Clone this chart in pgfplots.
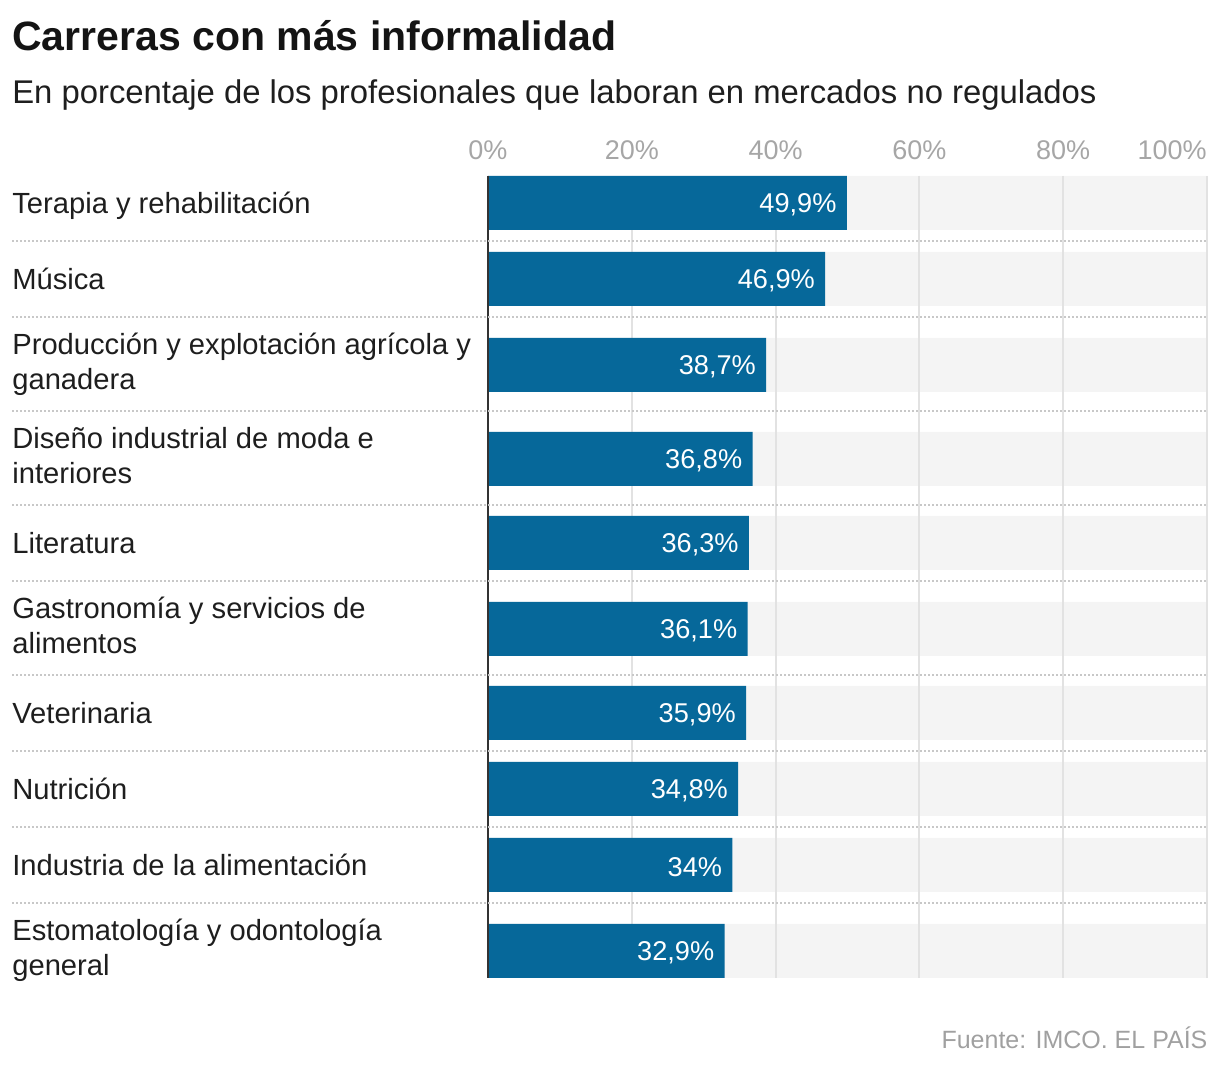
\documentclass[border=0pt]{standalone}
\usepackage{fontspec}
\setmainfont{Liberation Sans}
\usepackage{pgfplots}
\pgfplotsset{compat=1.18}
\usepackage{pgfplotstable}

\definecolor{barblue}{HTML}{06689A}
\definecolor{band}{HTML}{F4F4F4}
\definecolor{gridc}{HTML}{E2E2E2}
\definecolor{sepc}{HTML}{C8C8C8}
\definecolor{tickc}{HTML}{A6A6A6}
\definecolor{txt}{HTML}{1E1E1E}
\definecolor{srcc}{HTML}{A0A0A0}

% 1 px of layout = 0.6pt
\newcommand\fsz[1]{\fontsize{#1}{#1}\selectfont}

% row centre (layout px, from the top) and share of informal workers (%)
\pgfplotstableread{
pos val
203 49.9
279 46.9
365 38.7
459 36.8
543 36.3
629 36.1
713 35.9
789 34.8
865 34.0
951 32.9
}\informal

\begin{document}
\begin{tikzpicture}
\begin{axis}[
  set layers,
  scale only axis,
  width=431.4pt, height=481.2pt,
  xmin=0, xmax=100,
  ymin=176, ymax=978,
  y dir=reverse,
  axis line style={draw=none},
  xtick={20,40,60,80,100},
  xticklabels={},
  ytick=\empty,
  major tick length=0pt,
  xmajorgrids,
  grid style={gridc, line width=1.2pt},
  clip=false,
  xbar, bar width=54, bar shift=0pt,
  /pgf/number format/assume math mode=true,
]
% full-width background band of each row
\addplot[on layer=axis background, fill=band, draw=none]
  table[x expr=100, y=pos] {\informal};

% bars with their values
\addplot[fill=barblue, draw=none,
  point meta=x,
  nodes near coords={\pgfmathprintnumber[fixed,precision=1,use comma,assume math mode=true]{\pgfplotspointmeta}\%},
  nodes near coords align={anchor=east},
  every node near coord/.append style={anchor=east, xshift=-6pt, yshift=-1pt, text=white, font=\fsz{16.3pt}, inner sep=0pt},
] table[x=val, y=pos] {\informal};

% zero line
\draw[line width=1.2pt, color=black!80] (axis cs:0,176) -- (axis cs:0,978);

% dotted row separators
\pgfplotsinvokeforeach{241,317,411,505,581,675,751,827,903}{
  \draw[sepc, line width=0.9pt, dash pattern=on 1.2pt off 1.2pt]
    (axis cs:-66.2,#1) -- (axis cs:100,#1);
}

% percentage scale on top
\pgfplotsinvokeforeach{0,20,40,60,80}{
  \node[anchor=base, text=tickc, font=\fsz{16.2pt}, inner sep=0pt] at (axis cs:#1,160) {#1\%};
}
\node[anchor=base east, text=tickc, font=\fsz{16.2pt}, inner sep=0pt] at (axis cs:100,160) {100\%};

% category names
\begin{scope}[every node/.style={anchor=base west, text=txt, font=\fsz{17.5pt}, inner sep=0pt}]
\node at (axis cs:-66.2,214) {Terapia y rehabilitación};
\node at (axis cs:-66.2,290) {Música};
\node at (axis cs:-66.2,355) {Producción y explotación agrícola y};
\node at (axis cs:-66.2,390) {ganadera};
\node at (axis cs:-66.2,449) {Diseño industrial de moda e};
\node at (axis cs:-66.2,484) {interiores};
\node at (axis cs:-66.2,554) {Literatura};
\node at (axis cs:-66.2,619) {Gastronomía y servicios de};
\node at (axis cs:-66.2,654) {alimentos};
\node at (axis cs:-66.2,724) {Veterinaria};
\node at (axis cs:-66.2,800) {Nutrición};
\node at (axis cs:-66.2,876) {Industria de la alimentación};
\node at (axis cs:-66.2,941) {Estomatología y odontología};
\node at (axis cs:-66.2,976) {general};
\end{scope}

% heading and source
\node[anchor=base west, inner sep=0pt, text=black!92, font=\fsz{24.6pt}\bfseries] at (axis cs:-66.2,51) {Carreras con más informalidad};
\node[anchor=base west, inner sep=0pt, text=txt, font=\fsz{19.7pt}] at (axis cs:-66.2,104) {En porcentaje de los profesionales que laboran en mercados no regulados};
\node[anchor=base east, inner sep=0pt, text=srcc, font=\fsz{15pt}] at (axis cs:100.1,1049) {Fuente: IMCO. EL PAÍS};

% canvas
\coordinate (tl) at (axis cs:-67.87,0);
\coordinate (br) at (axis cs:101.81,1070);
\end{axis}
\path (tl) rectangle (br);
\end{tikzpicture}
\end{document}
